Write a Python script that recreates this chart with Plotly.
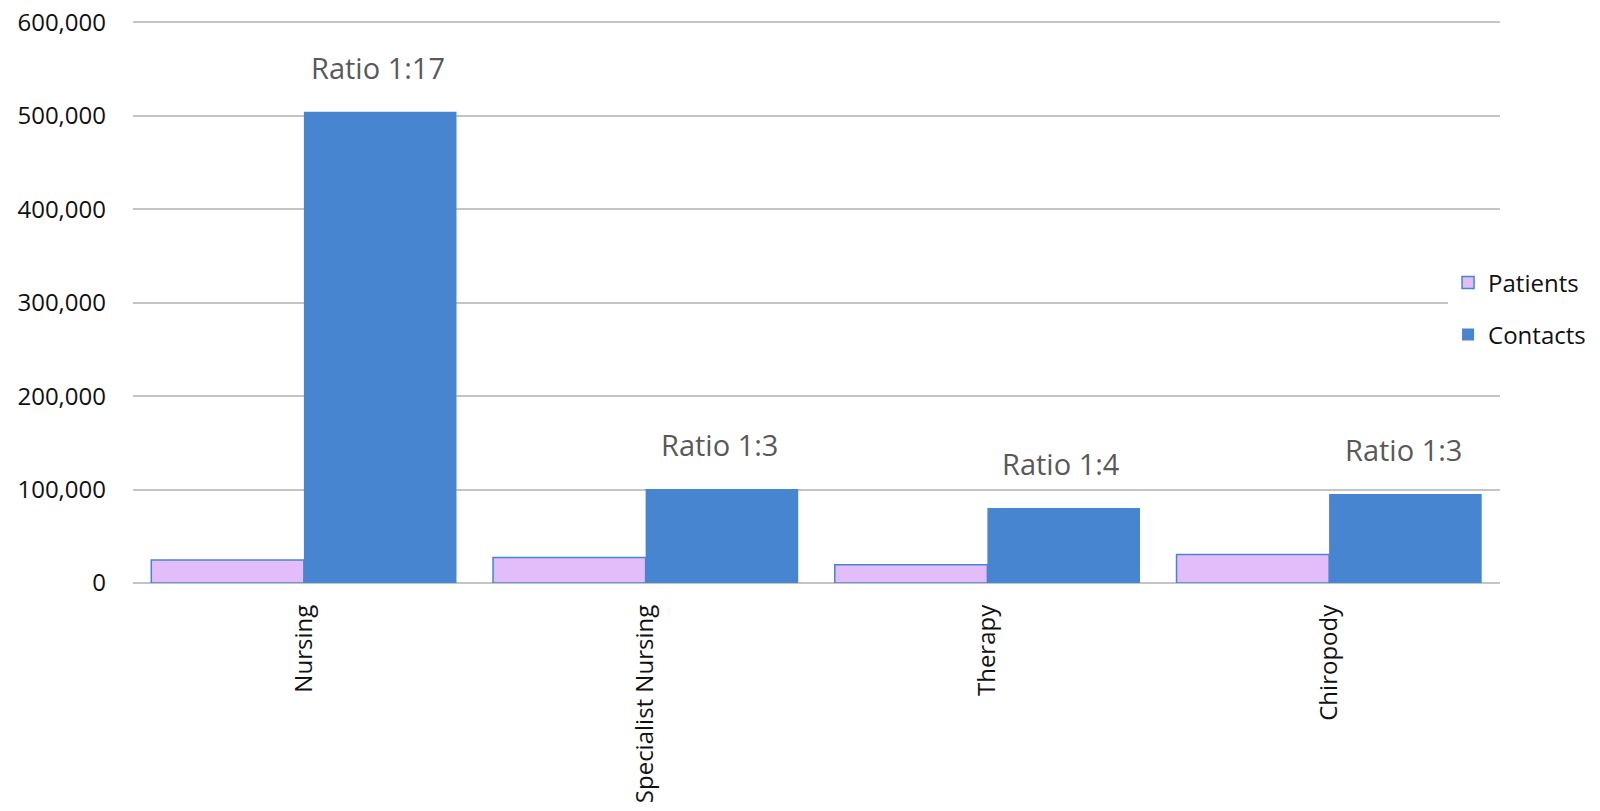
import plotly.graph_objects as go

categories = ["Nursing", "Specialist Nursing", "Therapy", "Chiropody"]
patients = [24600, 27400, 19600, 30600]
contacts = [504300, 100700, 80300, 95300]
ratio_labels = ["Ratio 1:17", "Ratio 1:3", "Ratio 1:4", "Ratio 1:3"]
y_ticks = [0, 100000, 200000, 300000, 400000, 500000, 600000]

FONT = "Open Sans, Noto Sans, sans-serif"
BLUE = "#4785D1"
LAV = "#E2BDFA"

fig = go.Figure()
fig.add_trace(go.Bar(
    x=categories, y=patients, name="Patients", legendgroup="p",
    marker=dict(color=LAV, line=dict(color=BLUE, width=1.5)),
))
fig.add_trace(go.Bar(
    x=categories, y=contacts, name="Contacts", legendgroup="c",
    marker=dict(color=BLUE, line=dict(color=BLUE, width=0)),
))

for cat, val, txt in zip(categories, contacts, ratio_labels):
    fig.add_annotation(
        x=cat, y=val, xref="x", yref="y", text=txt, showarrow=False,
        xshift=74, yshift=44, yanchor="middle", xanchor="center",
        font=dict(family=FONT, size=29, color="#595959"),
    )

fig.update_layout(
    width=1600, height=811,
    paper_bgcolor="white", plot_bgcolor="white",
    margin=dict(l=133, r=100, t=20, b=228, autoexpand=False),
    barmode="group", bargap=0.107, bargroupgap=0,
    font=dict(family=FONT, size=24, color="#111111"),
    legend=dict(
        x=0.962, xanchor="left", y=0.487, yanchor="middle",
        bgcolor="white", borderwidth=0, tracegroupgap=18,
        traceorder="grouped",
        font=dict(family=FONT, size=24, color="#111111"),
    ),
    showlegend=True,
)
fig.update_yaxes(
    range=[0, 602500], tickvals=y_ticks, tickformat=",",
    showgrid=True, gridcolor="#C4C4C4", gridwidth=1.5,
    zeroline=True, zerolinecolor="#C4C4C4", zerolinewidth=1.5,
    showline=False, ticks="", ticklabelstandoff=26,
    tickfont=dict(family=FONT, size=24, color="#111111"),
)
fig.update_xaxes(
    tickangle=-90, showgrid=False, showline=False, ticks="",
    ticklabelstandoff=16,
    tickfont=dict(family=FONT, size=24, color="#111111"),
)

fig.write_html(
    "out.html",
    config={"displayModeBar": False},
    post_script="document.body.style.margin='0';document.body.style.overflow='hidden';",
)
